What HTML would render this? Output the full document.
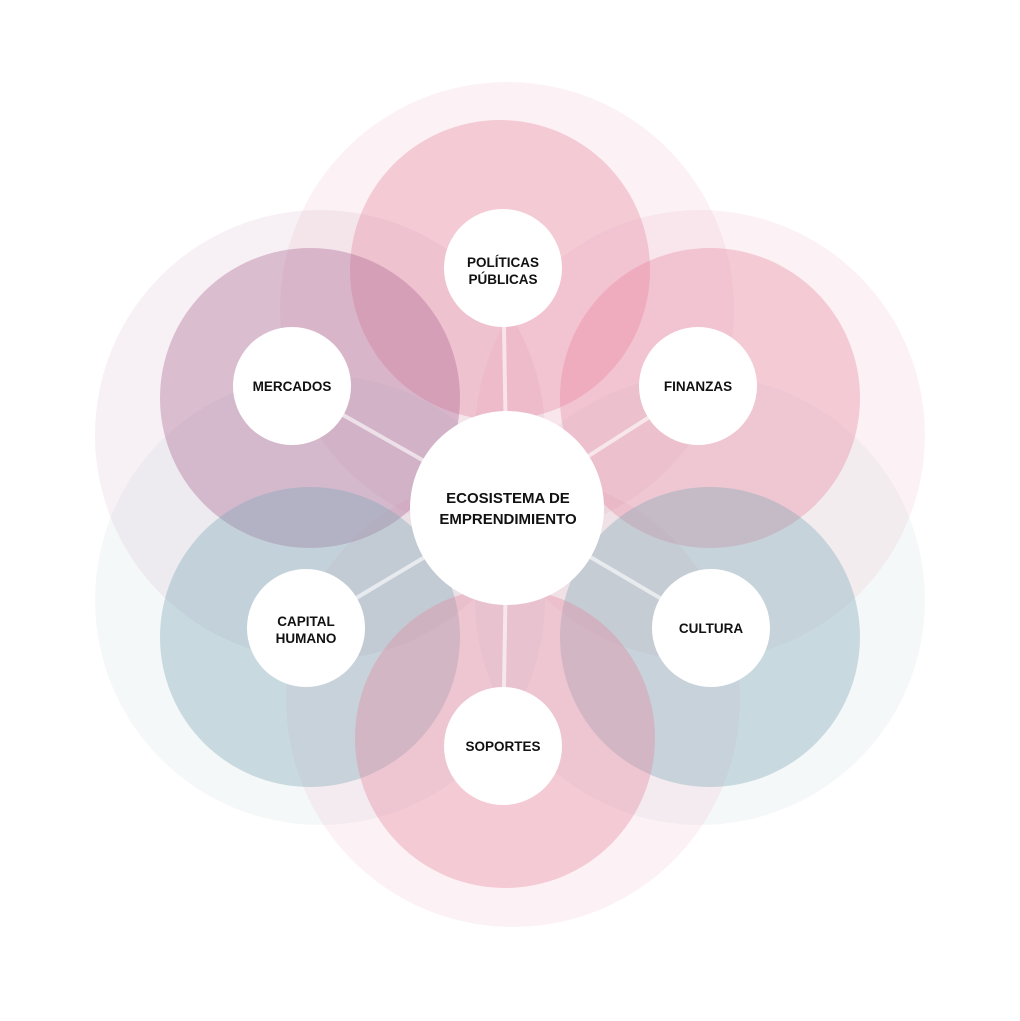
<!DOCTYPE html>
<html><head><meta charset="utf-8"><style>body{margin:0;background:#fff}svg{display:block}text{font-family:"Liberation Sans",sans-serif;font-weight:bold;font-size:13.5px;fill:#111;text-anchor:middle}</style></head><body>
<svg width="1020" height="1021" viewBox="0 0 1020 1021">
<g>
<circle cx="507" cy="309" r="227" fill="#e5849f" fill-opacity="0.1"/>
<circle cx="700" cy="435" r="225" fill="#e5849f" fill-opacity="0.1"/>
<circle cx="320" cy="435" r="225" fill="#a8628f" fill-opacity="0.09"/>
<circle cx="320" cy="600" r="225" fill="#7aa5b4" fill-opacity="0.08"/>
<circle cx="700" cy="600" r="225" fill="#7aa5b4" fill-opacity="0.08"/>
<circle cx="513" cy="700" r="227" fill="#e5849f" fill-opacity="0.1"/>
</g>
<g>
<circle cx="500" cy="270" r="150" fill="#e5849f" fill-opacity="0.36"/>
<circle cx="710" cy="398" r="150" fill="#e5849f" fill-opacity="0.36"/>
<circle cx="310" cy="398" r="150" fill="#a8628f" fill-opacity="0.36"/>
<circle cx="310" cy="637" r="150" fill="#7aa5b4" fill-opacity="0.36"/>
<circle cx="710" cy="637" r="150" fill="#7aa5b4" fill-opacity="0.36"/>
<circle cx="505" cy="738" r="150" fill="#e5849f" fill-opacity="0.36"/>
</g>
<g stroke="#fff" stroke-opacity="0.6" stroke-width="4">
<line x1="507" y1="508" x2="503" y2="268"/>
<line x1="507" y1="508" x2="698" y2="386"/>
<line x1="507" y1="508" x2="292" y2="386"/>
<line x1="507" y1="508" x2="306" y2="628"/>
<line x1="507" y1="508" x2="711" y2="628"/>
<line x1="507" y1="508" x2="503" y2="746"/>
</g>
<g fill="#fff">
<circle cx="507" cy="508" r="97"/>
<circle cx="503" cy="268" r="59"/>
<circle cx="698" cy="386" r="59"/>
<circle cx="292" cy="386" r="59"/>
<circle cx="306" cy="628" r="59"/>
<circle cx="711" cy="628" r="59"/>
<circle cx="503" cy="746" r="59"/>
</g>
<text x="508" y="503" style="font-size:15px">ECOSISTEMA DE</text>
<text x="508" y="524" style="font-size:15px">EMPRENDIMIENTO</text>
<text x="503" y="267">POLÍTICAS</text>
<text x="503" y="284">PÚBLICAS</text>
<text x="698" y="391">FINANZAS</text>
<text x="292" y="391">MERCADOS</text>
<text x="306" y="626">CAPITAL</text>
<text x="306" y="643">HUMANO</text>
<text x="711" y="633">CULTURA</text>
<text x="503" y="751">SOPORTES</text>
</svg>
</body></html>
